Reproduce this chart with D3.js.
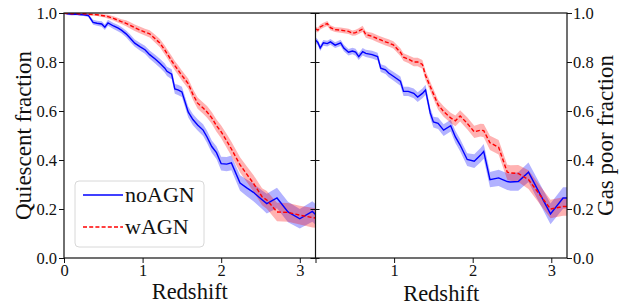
<!DOCTYPE html>
<html>
<head>
<meta charset="utf-8">
<script src="https://cdn.jsdelivr.net/npm/d3@7"></script>
<style>
  body { margin: 0; background: #fff; }
  text { font-family: "Liberation Serif", serif; fill: #111; }
</style>
</head>
<body>
<svg id="chart" width="628" height="305"></svg>
<script>
// ---- left panel: quiescent fraction vs redshift ----
var zLeft = [0.00,0.05,0.10,0.15,0.20,0.25,0.31,0.37,0.42,0.48,0.52,0.56,0.63,0.69,0.73,0.79,0.84,0.90,0.97,1.03,
             1.09,1.16,1.22,1.28,1.31,1.37,1.41,1.45,1.50,1.58,1.64,1.70,1.77,1.82,1.88,1.94,2.00,2.07,2.13,2.24,
             2.33,2.41,2.52,2.58,2.71,2.85,3.00,3.16,3.20];
var quiescentNoAGN = [1.000,0.997,0.995,0.996,0.994,0.993,0.990,0.962,0.958,0.955,0.942,0.960,0.947,0.938,0.930,0.915,0.898,0.877,0.862,0.850,
                      0.830,0.812,0.795,0.776,0.762,0.750,0.690,0.686,0.678,0.596,0.565,0.543,0.522,0.494,0.455,0.430,0.385,0.383,0.388,0.306,
                      0.285,0.268,0.238,0.222,0.245,0.188,0.160,0.190,0.178];
var quiescentNoAGNErr = [0.005,0.005,0.005,0.005,0.005,0.005,0.006,0.010,0.010,0.011,0.011,0.012,0.012,0.013,0.013,0.014,0.015,0.015,0.016,0.016,
                         0.017,0.018,0.018,0.019,0.019,0.020,0.020,0.021,0.021,0.022,0.023,0.023,0.024,0.025,0.025,0.026,0.028,0.029,0.030,0.032,
                         0.034,0.036,0.038,0.040,0.042,0.042,0.040,0.042,0.042];
var quiescentWAGN = [1.000,0.998,0.997,0.998,0.996,0.997,0.995,0.994,0.993,0.990,0.988,0.985,0.978,0.970,0.965,0.958,0.950,0.940,0.930,0.922,
                     0.915,0.895,0.877,0.850,0.835,0.805,0.785,0.768,0.745,0.712,0.668,0.632,0.612,0.596,0.572,0.540,0.515,0.478,0.445,0.380,
                     0.340,0.305,0.250,0.237,0.188,0.186,0.175,0.165,0.163];
var quiescentWAGNErr = [0.004,0.004,0.004,0.004,0.004,0.004,0.004,0.005,0.005,0.006,0.006,0.008,0.009,0.010,0.010,0.012,0.013,0.013,0.014,0.014,
                        0.015,0.016,0.017,0.018,0.018,0.019,0.019,0.020,0.020,0.021,0.022,0.023,0.023,0.024,0.024,0.025,0.026,0.028,0.029,0.031,
                        0.032,0.034,0.035,0.036,0.038,0.038,0.038,0.040,0.040];

// ---- right panel: gas poor fraction vs redshift ----
var zRight = [0.00,0.03,0.06,0.10,0.15,0.19,0.25,0.32,0.36,0.42,0.47,0.51,0.55,0.60,0.64,0.72,0.79,0.83,0.89,0.93,
              0.99,1.08,1.12,1.18,1.25,1.30,1.36,1.40,1.46,1.50,1.56,1.63,1.72,1.78,1.84,1.93,2.02,2.10,2.14,2.22,
              2.33,2.44,2.48,2.58,2.71,2.99,3.15,3.20];
var gasPoorNoAGN = [0.890,0.880,0.857,0.878,0.875,0.882,0.869,0.878,0.857,0.840,0.845,0.840,0.822,0.842,0.835,0.830,0.822,0.775,0.768,0.755,
                    0.742,0.722,0.680,0.680,0.672,0.657,0.672,0.686,0.592,0.555,0.550,0.522,0.540,0.494,0.461,0.402,0.395,0.420,0.435,0.320,
                    0.327,0.312,0.310,0.312,0.350,0.180,0.245,0.245];
var gasPoorNoAGNErr = [0.012,0.012,0.012,0.012,0.012,0.012,0.012,0.013,0.013,0.013,0.013,0.014,0.014,0.015,0.015,0.016,0.016,0.016,0.017,0.017,
                       0.018,0.019,0.019,0.019,0.020,0.020,0.020,0.021,0.021,0.022,0.023,0.024,0.024,0.025,0.025,0.026,0.028,0.029,0.030,0.031,
                       0.033,0.034,0.035,0.038,0.040,0.042,0.044,0.044];
var gasPoorWAGN = [0.935,0.930,0.943,0.950,0.957,0.940,0.932,0.930,0.928,0.925,0.918,0.920,0.926,0.935,0.912,0.905,0.895,0.890,0.882,0.878,
                   0.870,0.840,0.820,0.812,0.800,0.800,0.790,0.745,0.700,0.670,0.625,0.598,0.572,0.560,0.580,0.550,0.515,0.522,0.520,0.470,
                   0.452,0.350,0.347,0.345,0.320,0.200,0.210,0.210];
var gasPoorWAGNErr = [0.010,0.010,0.010,0.010,0.010,0.010,0.010,0.011,0.011,0.011,0.011,0.012,0.012,0.013,0.013,0.014,0.014,0.014,0.015,0.015,
                      0.015,0.016,0.016,0.016,0.017,0.017,0.018,0.019,0.019,0.020,0.020,0.021,0.021,0.022,0.023,0.024,0.025,0.026,0.027,0.029,
                      0.030,0.031,0.032,0.035,0.038,0.038,0.038,0.038];

var xTicks = [0, 1, 2, 3];
var yTicks = [0, 0.2, 0.4, 0.6, 0.8, 1.0];
var seriesNames = ["noAGN", "wAGN"];
var seriesColors = ["#0000ff", "#ff0000"];

var svg = d3.select("#chart");

var plotTop = 13, plotBottom = 258;
var y = d3.scaleLinear().domain([0, 1]).range([plotBottom, plotTop]);
var xLeft = d3.scaleLinear().domain([0, 3.2]).range([64, 315.5]);
var xRight = d3.scaleLinear().domain([0, 3.2]).range([315.5, 567]);

function drawPanel(name, x, z, series) {
    var g = svg.append("g");
    var clipId = "clip-" + name;
    svg.append("clipPath").attr("id", clipId)
        .append("rect")
        .attr("x", x.range()[0]).attr("y", plotTop)
        .attr("width", x.range()[1] - x.range()[0]).attr("height", plotBottom - plotTop);

    var plot = g.append("g").attr("clip-path", "url(#" + clipId + ")");

    series.forEach(function (s, k) {
        var pts = z.map(function (zz, i) { return { z: zz, v: s.values[i], e: s.err[i] }; });
        var area = d3.area()
            .x(function (d) { return x(d.z); })
            .y0(function (d) { return y(d.v - d.e); })
            .y1(function (d) { return y(d.v + d.e); });
        plot.append("path")
            .datum(pts)
            .attr("d", area)
            .attr("fill", seriesColors[k])
            .attr("fill-opacity", 0.3);
    });
    series.forEach(function (s, k) {
        var pts = z.map(function (zz, i) { return { z: zz, v: s.values[i] }; });
        var line = d3.line()
            .x(function (d) { return x(d.z); })
            .y(function (d) { return y(d.v); });
        plot.append("path")
            .datum(pts)
            .attr("d", line)
            .attr("fill", "none")
            .attr("stroke", seriesColors[k])
            .attr("stroke-width", 1.4)
            .attr("stroke-dasharray", k == 1 ? "4,2.2" : null);
    });
    return g;
}

drawPanel("left", xLeft, zLeft, [
    { values: quiescentNoAGN, err: quiescentNoAGNErr },
    { values: quiescentWAGN, err: quiescentWAGNErr }
]);
drawPanel("right", xRight, zRight, [
    { values: gasPoorNoAGN, err: gasPoorNoAGNErr },
    { values: gasPoorWAGN, err: gasPoorWAGNErr }
]);

// axes
function styleAxis(sel) {
    sel.attr("font-family", null).attr("font-size", null);
    sel.select(".domain").remove();
    sel.selectAll(".tick line").attr("stroke", "#111").attr("stroke-width", 1);
    sel.selectAll(".tick text").style("font-size", "16.5px").attr("fill", "#111");
}

svg.append("g")
    .attr("transform", "translate(64,0)")
    .call(d3.axisLeft(y).tickValues(yTicks).tickFormat(d3.format(".1f")).tickSize(5).tickPadding(2))
    .call(styleAxis);

svg.append("g")
    .attr("transform", "translate(315.5,0)")
    .call(d3.axisRight(y).tickValues(yTicks).tickFormat("").tickSize(4))
    .call(styleAxis);
svg.append("g")
    .attr("transform", "translate(315.5,0)")
    .call(d3.axisLeft(y).tickValues(yTicks).tickFormat("").tickSize(5))
    .call(styleAxis);

svg.append("g")
    .attr("transform", "translate(567,0)")
    .call(d3.axisRight(y).tickValues(yTicks).tickFormat(d3.format(".1f")).tickSize(5).tickPadding(1))
    .call(styleAxis);

svg.append("g")
    .attr("transform", "translate(0," + plotBottom + ")")
    .call(d3.axisBottom(xLeft).tickValues(xTicks).tickFormat(d3.format("d")).tickSize(5).tickPadding(1))
    .call(styleAxis);

svg.append("g")
    .attr("transform", "translate(0," + plotBottom + ")")
    .call(d3.axisBottom(xRight).tickValues(xTicks).tickFormat(function (d) { return d == 0 ? "" : d; }).tickSize(5).tickPadding(1))
    .call(styleAxis);

// spines
svg.append("rect")
    .attr("x", 64).attr("y", plotTop)
    .attr("width", 567 - 64).attr("height", plotBottom - plotTop)
    .attr("fill", "none").attr("stroke", "#111").attr("stroke-width", 1.2);
svg.append("line")
    .attr("x1", 315.5).attr("x2", 315.5).attr("y1", plotTop).attr("y2", plotBottom)
    .attr("stroke", "#111").attr("stroke-width", 1.2);

// axis labels
svg.append("text")
    .attr("transform", "translate(31,135.5) rotate(-90)")
    .attr("text-anchor", "middle")
    .style("font-size", "23px")
    .text("Quiescent fraction");
svg.append("text")
    .attr("transform", "translate(613,135.5) rotate(-90)")
    .attr("text-anchor", "middle")
    .style("font-size", "23px")
    .text("Gas poor fraction");
svg.append("text")
    .attr("x", (64 + 315.5) / 2).attr("y", 299)
    .attr("text-anchor", "middle")
    .style("font-size", "22.5px")
    .text("Redshift");
svg.append("text")
    .attr("x", (315.5 + 567) / 2).attr("y", 301)
    .attr("text-anchor", "middle")
    .style("font-size", "22.5px")
    .text("Redshift");

// legend
var legend = svg.append("g").attr("transform", "translate(75,181)");
legend.append("rect")
    .attr("width", 129).attr("height", 66).attr("rx", 4)
    .attr("fill", "#fff").attr("fill-opacity", 0.8)
    .attr("stroke", "#d8d8d8").attr("stroke-width", 1);
seriesNames.forEach(function (name, k) {
    var ly = 14 + k * 32;
    legend.append("line")
        .attr("x1", 8).attr("x2", 48).attr("y1", ly).attr("y2", ly)
        .attr("stroke", seriesColors[k]).attr("stroke-width", 1.4)
        .attr("stroke-dasharray", k == 1 ? "4,2.2" : null);
    legend.append("text")
        .attr("x", 50).attr("y", ly + 7)
        .style("font-size", "22px")
        .text(name);
});
</script>
</body>
</html>
